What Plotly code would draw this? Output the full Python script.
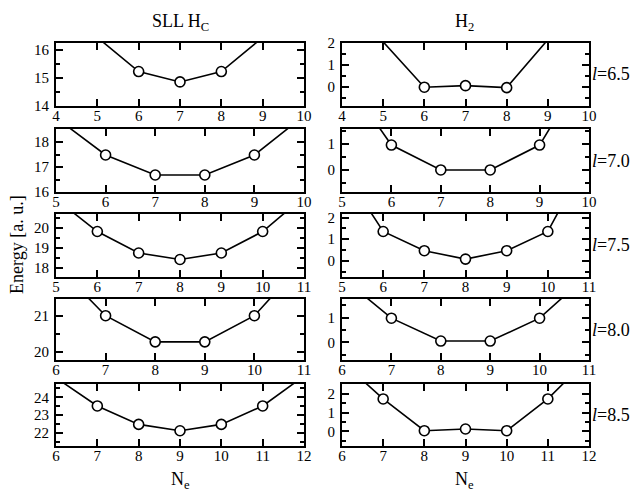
import plotly.graph_objects as go
from plotly.subplots import make_subplots

# energies vs number of electrons N_e, one pair of curves per l
ne_65 = [5, 6, 7, 8, 9]
sll_65 = [16.45, 15.23, 14.86, 15.23, 16.45]
h2_65 = [2.05, 0.0, 0.07, -0.02, 2.15]

ne_70 = [5, 6, 7, 8, 9, 10]
sll_70 = [18.97, 17.48, 16.68, 16.68, 17.48, 19.05]
h2_70 = [3.7, 0.96, 0.0, 0.0, 0.96, 4.1]

ne_75 = [5, 6, 7, 8, 9, 10, 11]
sll_75 = [21.48, 19.83, 18.74, 18.41, 18.74, 19.83, 21.6]
h2_75 = [4.3, 1.36, 0.47, 0.08, 0.47, 1.36, 4.9]

ne_80 = [6, 7, 8, 9, 10, 11]
sll_80 = [22.4, 21.0, 20.28, 20.28, 21.0, 22.5]
h2_80 = [2.64, 0.98, 0.05, 0.05, 0.98, 2.79]

ne_85 = [6, 7, 8, 9, 10, 11, 12]
sll_85 = [25.1, 23.51, 22.47, 22.11, 22.47, 23.51, 25.2]
h2_85 = [3.73, 1.73, 0.03, 0.12, 0.03, 1.73, 3.93]

l_values = ["6.5", "7.0", "7.5", "8.0", "8.5"]

panels = [
    (ne_65, sll_65, h2_65, [4, 10], [14, 16.25], [-0.85, 2.0]),
    (ne_70, sll_70, h2_70, [5, 10], [16, 18.52], [-0.85, 1.58]),
    (ne_75, sll_75, h2_75, [5, 11], [17.52, 20.72], [-0.75, 2.17]),
    (ne_80, sll_80, h2_80, [6, 11], [19.78, 21.46], [-0.72, 1.76]),
    (ne_85, sll_85, h2_85, [6, 12], [21.25, 24.75], [-0.79, 2.53]),
]

# page body has an 8px margin, so the figure is drawn 8px in from the corner
OFF = 8
W, H = 639 - OFF, 489 - OFF
col_px = [(56, 304), (342, 589)]
row_px = [(43, 106), (129, 192), (214, 277), (299, 360), (384, 446)]


def px_x(p):
    return (p - OFF) / W


def px_y(p):
    return 1 - (p - OFF) / H


FONT = "Liberation Serif"

fig = make_subplots(rows=5, cols=2)

line = dict(color="black", width=1.6)
marker = dict(size=10, color="white", line=dict(color="black", width=1.6))

axis_common = dict(
    showline=True, linecolor="black", linewidth=2, mirror="ticks",
    ticks="inside", ticklen=7, tickwidth=1.6, tickcolor="black",
    showgrid=False, zeroline=False,
    tickfont=dict(family=FONT, size=15, color="black"),
)

for r, (ne, sll, h2, xr, yl, yr) in enumerate(panels, start=1):
    for c, vals, yrange in [(1, sll, yl), (2, h2, yr)]:
        fig.add_trace(go.Scatter(x=ne, y=vals, mode="lines", line=line,
                                 showlegend=False), row=r, col=c)
        # circles only for the points inside the visible window
        pts = [(n, v) for n, v in zip(ne, vals) if yrange[0] <= v <= yrange[1]]
        fig.add_trace(go.Scatter(x=[p[0] for p in pts], y=[p[1] for p in pts],
                                 mode="markers", marker=marker, showlegend=False),
                      row=r, col=c)
        x0, x1 = col_px[c - 1]
        t, b = row_px[r - 1]
        fig.update_xaxes(axis_common, range=xr, dtick=1, tick0=0,
                         domain=[px_x(x0), px_x(x1)], ticklabelstandoff=-5,
                         row=r, col=c)
        fig.update_yaxes(axis_common, range=yrange, dtick=1, tick0=0,
                         domain=[px_y(b), px_y(t)], ticklabelstandoff=2,
                         minor=dict(ticks="inside", dtick=0.5, ticklen=4,
                                    tickwidth=1.6, tickcolor="black"),
                         row=r, col=c)
    t, b = row_px[r - 1]
    fig.add_annotation(x=px_x(590), y=px_y((t + b) / 2), xref="paper", yref="paper",
                       xanchor="left", yanchor="middle", showarrow=False,
                       text="<i>l</i>=" + l_values[r - 1],
                       font=dict(family=FONT, size=18, color="black"))

titles = [("SLL H<sub>C</sub>", 180), ("H<sub>2</sub>", 465)]
for txt, xp in titles:
    fig.add_annotation(x=px_x(xp), y=px_y(22), xref="paper", yref="paper",
                       xanchor="center", yanchor="middle", showarrow=False,
                       text=txt, font=dict(family=FONT, size=18, color="black"))
    fig.add_annotation(x=px_x(xp), y=px_y(480), xref="paper", yref="paper",
                       xanchor="center", yanchor="middle", showarrow=False,
                       text="N<sub>e</sub>", font=dict(family=FONT, size=18, color="black"))

fig.add_annotation(x=px_x(17), y=px_y(245), xref="paper", yref="paper",
                   xanchor="center", yanchor="middle", showarrow=False, textangle=-90,
                   text="Energy [a. u.]", font=dict(family=FONT, size=18, color="black"))

fig.update_layout(width=W, height=H,
                  margin=dict(l=0, r=0, t=0, b=0, autoexpand=False),
                  plot_bgcolor="white", paper_bgcolor="white")

fig.write_html("out.html")
